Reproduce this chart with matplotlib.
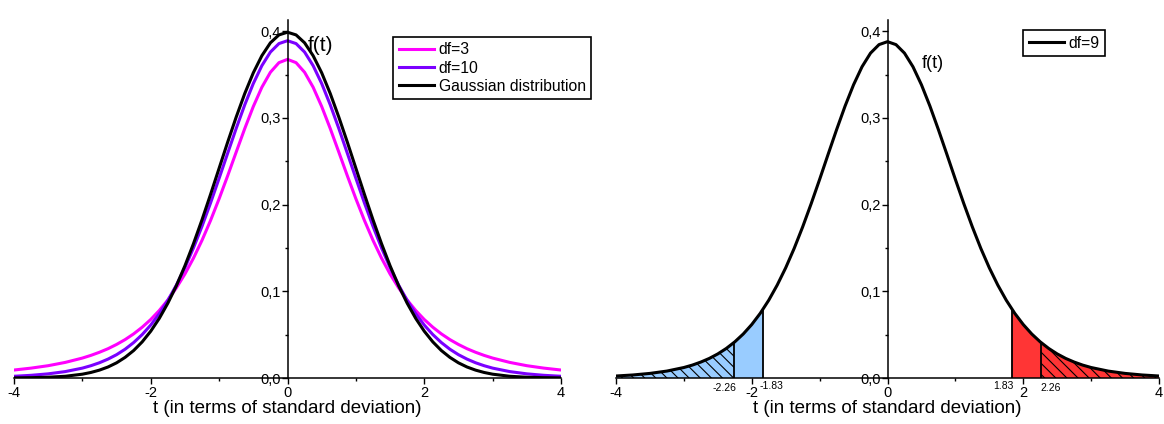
import numpy as np
import matplotlib.pyplot as plt
from matplotlib.ticker import MultipleLocator, FuncFormatter

plt.rcParams['font.family'] = ['Liberation Sans', 'DejaVu Sans']
plt.rcParams['axes.unicode_minus'] = False
plt.rcParams['hatch.linewidth'] = 0.8

t_grid = [-4, -3.75, -3.5, -3.25,
          -3, -2.875, -2.75, -2.625, -2.5, -2.375, -2.25, -2.125, -2, -1.875, -1.75, -1.625,
          -1.5, -1.375, -1.25, -1.125, -1, -0.875, -0.75, -0.625, -0.5, -0.375, -0.25, -0.125,
          0,
          0.125, 0.25, 0.375, 0.5, 0.625, 0.75, 0.875, 1, 1.125, 1.25, 1.375, 1.5,
          1.625, 1.75, 1.875, 2, 2.125, 2.25, 2.375, 2.5, 2.625, 2.75, 2.875, 3,
          3.25, 3.5, 3.75, 4]
gauss = [0.0001, 0.0004, 0.0009, 0.0020,
         0.0044, 0.0064, 0.0091, 0.0127, 0.0175, 0.0238, 0.0317, 0.0417, 0.0540, 0.0688, 0.0863, 0.1065,
         0.1295, 0.1550, 0.1826, 0.2119, 0.2420, 0.2721, 0.3011, 0.3282, 0.3521, 0.3718, 0.3867, 0.3958,
         0.3989,
         0.3958, 0.3867, 0.3718, 0.3521, 0.3282, 0.3011, 0.2721, 0.2420, 0.2119, 0.1826, 0.1550, 0.1295,
         0.1065, 0.0863, 0.0688, 0.0540, 0.0417, 0.0317, 0.0238, 0.0175, 0.0127, 0.0091, 0.0064, 0.0044,
         0.0020, 0.0009, 0.0004, 0.0001]
t_df3 = [0.0092, 0.0114, 0.0142, 0.0180,
         0.0230, 0.0261, 0.0297, 0.0338, 0.0387, 0.0443, 0.0509, 0.0586, 0.0675, 0.0779, 0.0900, 0.1040,
         0.1200, 0.1383, 0.1589, 0.1818, 0.2068, 0.2333, 0.2607, 0.2878, 0.3132, 0.3354, 0.3527, 0.3638,
         0.3676,
         0.3638, 0.3527, 0.3354, 0.3132, 0.2878, 0.2607, 0.2333, 0.2068, 0.1818, 0.1589, 0.1383, 0.1200,
         0.1040, 0.0900, 0.0779, 0.0675, 0.0586, 0.0509, 0.0443, 0.0387, 0.0338, 0.0297, 0.0261, 0.0230,
         0.0180, 0.0142, 0.0114, 0.0092]
t_df10 = [0.0020, 0.0031, 0.0048, 0.0074,
          0.0114, 0.0142, 0.0176, 0.0218, 0.0269, 0.0332, 0.0409, 0.0501, 0.0611, 0.0742, 0.0895, 0.1072,
          0.1274, 0.1501, 0.1751, 0.2020, 0.2304, 0.2593, 0.2880, 0.3152, 0.3397, 0.3603, 0.3760, 0.3858,
          0.3891,
          0.3858, 0.3760, 0.3603, 0.3397, 0.3152, 0.2880, 0.2593, 0.2304, 0.2020, 0.1751, 0.1501, 0.1274,
          0.1072, 0.0895, 0.0742, 0.0611, 0.0501, 0.0409, 0.0332, 0.0269, 0.0218, 0.0176, 0.0142, 0.0114,
          0.0074, 0.0048, 0.0031, 0.0020]
t_df9 = [0.0023, 0.0035, 0.0053, 0.0080,
         0.0121, 0.0149, 0.0184, 0.0226, 0.0278, 0.0341, 0.0417, 0.0508, 0.0617, 0.0746, 0.0897, 0.1072,
         0.1271, 0.1495, 0.1743, 0.2010, 0.2291, 0.2580, 0.2865, 0.3137, 0.3383, 0.3591, 0.3748, 0.3846,
         0.3880,
         0.3846, 0.3748, 0.3591, 0.3383, 0.3137, 0.2865, 0.2580, 0.2291, 0.2010, 0.1743, 0.1495, 0.1271,
         0.1072, 0.0897, 0.0746, 0.0617, 0.0508, 0.0417, 0.0341, 0.0278, 0.0226, 0.0184, 0.0149, 0.0121,
         0.0080, 0.0053, 0.0035, 0.0023]
# critical values for df=9 and the height of the curve there
t_crit = [1.83, 2.26]
f_crit = [0.0798, 0.0410]

t = np.array(t_grid)
f9 = np.array(t_df9)


def style_axis(ax):
    ax.set_xlim(-4, 4)
    ax.set_ylim(0, 0.413)
    ax.spines['top'].set_visible(False)
    ax.spines['right'].set_visible(False)
    ax.spines['left'].set_position(('data', 0))
    ax.spines['left'].set_linewidth(1.1)
    ax.spines['bottom'].set_linewidth(1.1)
    ax.xaxis.set_major_locator(MultipleLocator(2))
    ax.xaxis.set_minor_locator(MultipleLocator(1))
    ax.yaxis.set_major_locator(MultipleLocator(0.1))
    ax.yaxis.set_minor_locator(MultipleLocator(0.05))
    ax.xaxis.set_major_formatter(FuncFormatter(lambda v, p: '%d' % round(v)))
    ax.yaxis.set_major_formatter(FuncFormatter(lambda v, p: ('%.1f' % v).replace('.', ',')))
    ax.tick_params(which='both', direction='out', width=1, labelsize=10.5)
    ax.tick_params(which='major', length=4)
    ax.tick_params(which='minor', length=2.5)
    ax.tick_params(axis='y', pad=1)
    ax.tick_params(axis='x', pad=2)
    ax.set_xlabel('t (in terms of standard deviation)', fontsize=13.5, labelpad=0)
    ax.patch.set_alpha(0)


fig = plt.figure(figsize=(11.64, 4.24), dpi=100)
ax1 = fig.add_axes([14 / 1164, 46 / 424, 547 / 1164, 358 / 424])
ax2 = fig.add_axes([616 / 1164, 46 / 424, 543 / 1164, 358 / 424])

# left panel: t vs gaussian
ax1.plot(t, t_df3, color='#FF00FF', lw=2.2, label='df=3')
ax1.plot(t, t_df10, color='#7B00FF', lw=2.2, label='df=10')
ax1.plot(t, gauss, color='black', lw=2.2, label='Gaussian distribution')
style_axis(ax1)
ax1.text(0.3, 0.384, 'f(t)', fontsize=15, va='center')
leg = ax1.legend(loc='upper left', bbox_to_anchor=(0.693, 0.9525), borderaxespad=0,
                 fontsize=11.3, fancybox=False, edgecolor='black', framealpha=1,
                 handlelength=2.25, handletextpad=0.3, labelspacing=0.2, borderpad=0.35)
leg.get_frame().set_linewidth(1.2)


def segment(lo, f_lo, hi, f_hi):
    inner = (t > lo) & (t < hi)
    xs = np.concatenate([[lo], t[inner], [hi]])
    ys = np.concatenate([[f_lo], f9[inner], [f_hi]])
    return xs, ys


# right panel: df=9 with shaded tails
xs, ys = segment(-4, f9[0], -t_crit[1], f_crit[1])
ax2.fill_between(xs, 0, ys, facecolor='#99CCFF', edgecolor='black', hatch='\\\\\\', linewidth=0)
xs, ys = segment(-t_crit[1], f_crit[1], -t_crit[0], f_crit[0])
ax2.fill_between(xs, 0, ys, facecolor='#99CCFF', linewidth=0)
xs, ys = segment(t_crit[0], f_crit[0], t_crit[1], f_crit[1])
ax2.fill_between(xs, 0, ys, facecolor='#FF3535', linewidth=0)
xs, ys = segment(t_crit[1], f_crit[1], 4, f9[-1])
ax2.fill_between(xs, 0, ys, facecolor='#FF3535', edgecolor='black', hatch='\\\\\\', linewidth=0)

line_x = [-t_crit[1], -t_crit[0], t_crit[0], t_crit[1]]
line_y = [f_crit[1], f_crit[0], f_crit[0], f_crit[1]]
ax2.vlines(line_x, 0, line_y, color='black', lw=1.3)
ax2.plot(t, t_df9, color='black', lw=2.2, label='df=9')
style_axis(ax2)

# small labels for the critical values, pushed aside so they clear the -2 / 2 ticks
crit_labels = ['-2.26', '-1.83', '1.83', '2.26']
shifts = [(-10, -5), (8, -3), (-8, -3), (10, -5)]
for x, lab, (dx, dy) in zip(line_x, crit_labels, shifts):
    ax2.annotate(lab, (x, 0), xytext=(dx, dy), textcoords='offset pixels',
                 ha='center', va='top', fontsize=7.5)

ax2.text(0.5, 0.363, 'f(t)', fontsize=13, va='center')
leg2 = ax2.legend(loc='upper left', bbox_to_anchor=(0.75, 0.972), borderaxespad=0,
                  fontsize=11.3, fancybox=False, edgecolor='black', framealpha=1,
                  handlelength=2.25, handletextpad=0.3, borderpad=0.35)
leg2.get_frame().set_linewidth(1.2)

fig.savefig('out.png', dpi=100)
